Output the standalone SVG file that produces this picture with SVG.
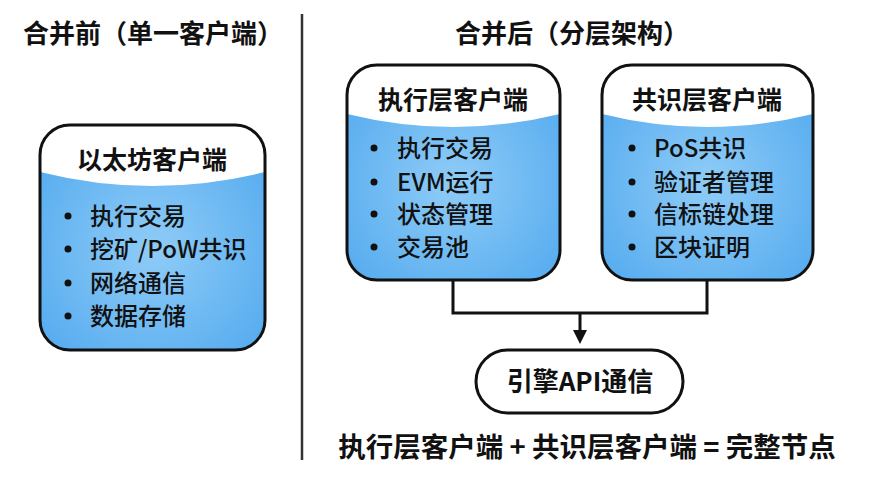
<svg xmlns="http://www.w3.org/2000/svg" width="870" height="493" viewBox="0 0 870 493">
<defs>
<radialGradient id="blue" cx="0.5" cy="0.55" r="0.65">
<stop offset="0" stop-color="#8fccf7"/>
<stop offset="1" stop-color="#55abef"/>
</radialGradient>
<marker id="arr" markerWidth="14" markerHeight="14" refX="7" refY="7" orient="auto" markerUnits="userSpaceOnUse" viewBox="0 0 14 14">
<path d="M0,0 L14,7 L0,14 z" fill="#111"/>
</marker>
<clipPath id="c1"><rect x="40" y="125" width="225" height="225" rx="30"/></clipPath>
<clipPath id="c2"><rect x="347" y="65" width="213" height="215" rx="30"/></clipPath>
<clipPath id="c3"><rect x="602" y="65" width="211" height="215" rx="30"/></clipPath>
</defs>
<style>
text{font-family:"Noto Sans CJK SC","Noto Sans",sans-serif;fill:#111}
.title{font-size:26px;font-weight:700}
.head{font-size:25px;font-weight:700;text-anchor:middle}
.item{font-size:24px;font-weight:500}
.dot{fill:#111}
.box{fill:none;stroke:#111;stroke-width:3}
.wire{fill:none;stroke:#111;stroke-width:3}
</style>
<rect width="870" height="493" fill="#fff"/>
<text class="title" x="23" y="43">合并前（单一客户端）</text>
<text class="title" x="455" y="43">合并后（分层架构）</text>
<line x1="302" y1="14" x2="302" y2="460" stroke="#333" stroke-width="2.5"/>

<g id="connectors">
<polyline class="wire" points="453,280 453,313 707,313 707,280"/>
<line class="wire" x1="580" y1="313" x2="580" y2="337" marker-end="url(#arr)"/>
</g>

<g id="eth-client">
<g clip-path="url(#c1)">
<rect x="40" y="125" width="225" height="225" fill="url(#blue)"/>
<path d="M40,125 H265 V172 Q152,200 40,172 Z" fill="#fff"/>
</g>
<rect class="box" x="40" y="125" width="225" height="225" rx="30"/>
<text class="head" x="152" y="169">以太坊客户端</text>
<g class="dot">
<circle cx="68" cy="216" r="3.5"/><circle cx="68" cy="249" r="3.5"/><circle cx="68" cy="283" r="3.5"/><circle cx="68" cy="316" r="3.5"/>
</g>
<g class="item">
<text x="90" y="225">执行交易</text>
<text x="90" y="258">挖矿/PoW共识</text>
<text x="90" y="292">网络通信</text>
<text x="90" y="325">数据存储</text>
</g>
</g>

<g id="exec-client">
<g clip-path="url(#c2)">
<rect x="347" y="65" width="213" height="215" fill="url(#blue)"/>
<path d="M347,65 H560 V114 Q453,140 347,114 Z" fill="#fff"/>
</g>
<rect class="box" x="347" y="65" width="213" height="215" rx="30"/>
<text class="head" x="453" y="109">执行层客户端</text>
<g class="dot">
<circle cx="374" cy="148" r="3.5"/><circle cx="374" cy="182" r="3.5"/><circle cx="374" cy="214" r="3.5"/><circle cx="374" cy="247" r="3.5"/>
</g>
<g class="item">
<text x="397" y="157">执行交易</text>
<text x="397" y="191">EVM运行</text>
<text x="397" y="223">状态管理</text>
<text x="397" y="256">交易池</text>
</g>
</g>

<g id="consensus-client">
<g clip-path="url(#c3)">
<rect x="602" y="65" width="211" height="215" fill="url(#blue)"/>
<path d="M602,65 H813 V114 Q707,140 602,114 Z" fill="#fff"/>
</g>
<rect class="box" x="602" y="65" width="211" height="215" rx="30"/>
<text class="head" x="707" y="109">共识层客户端</text>
<g class="dot">
<circle cx="632" cy="148" r="3.5"/><circle cx="632" cy="182" r="3.5"/><circle cx="632" cy="214" r="3.5"/><circle cx="632" cy="247" r="3.5"/>
</g>
<g class="item">
<text x="654" y="157">PoS共识</text>
<text x="654" y="191">验证者管理</text>
<text x="654" y="223">信标链处理</text>
<text x="654" y="256">区块证明</text>
</g>
</g>

<g id="engine-api">
<rect class="box" x="476" y="350" width="207" height="63" rx="31.5" fill="#fff"/>
<text x="580" y="391" text-anchor="middle" style="font-size:26px;font-weight:700">引擎API通信</text>
</g>

<text x="587" y="457" text-anchor="middle" style="font-size:27.5px;font-weight:700">执行层客户端 + 共识层客户端 = 完整节点</text>
</svg>
